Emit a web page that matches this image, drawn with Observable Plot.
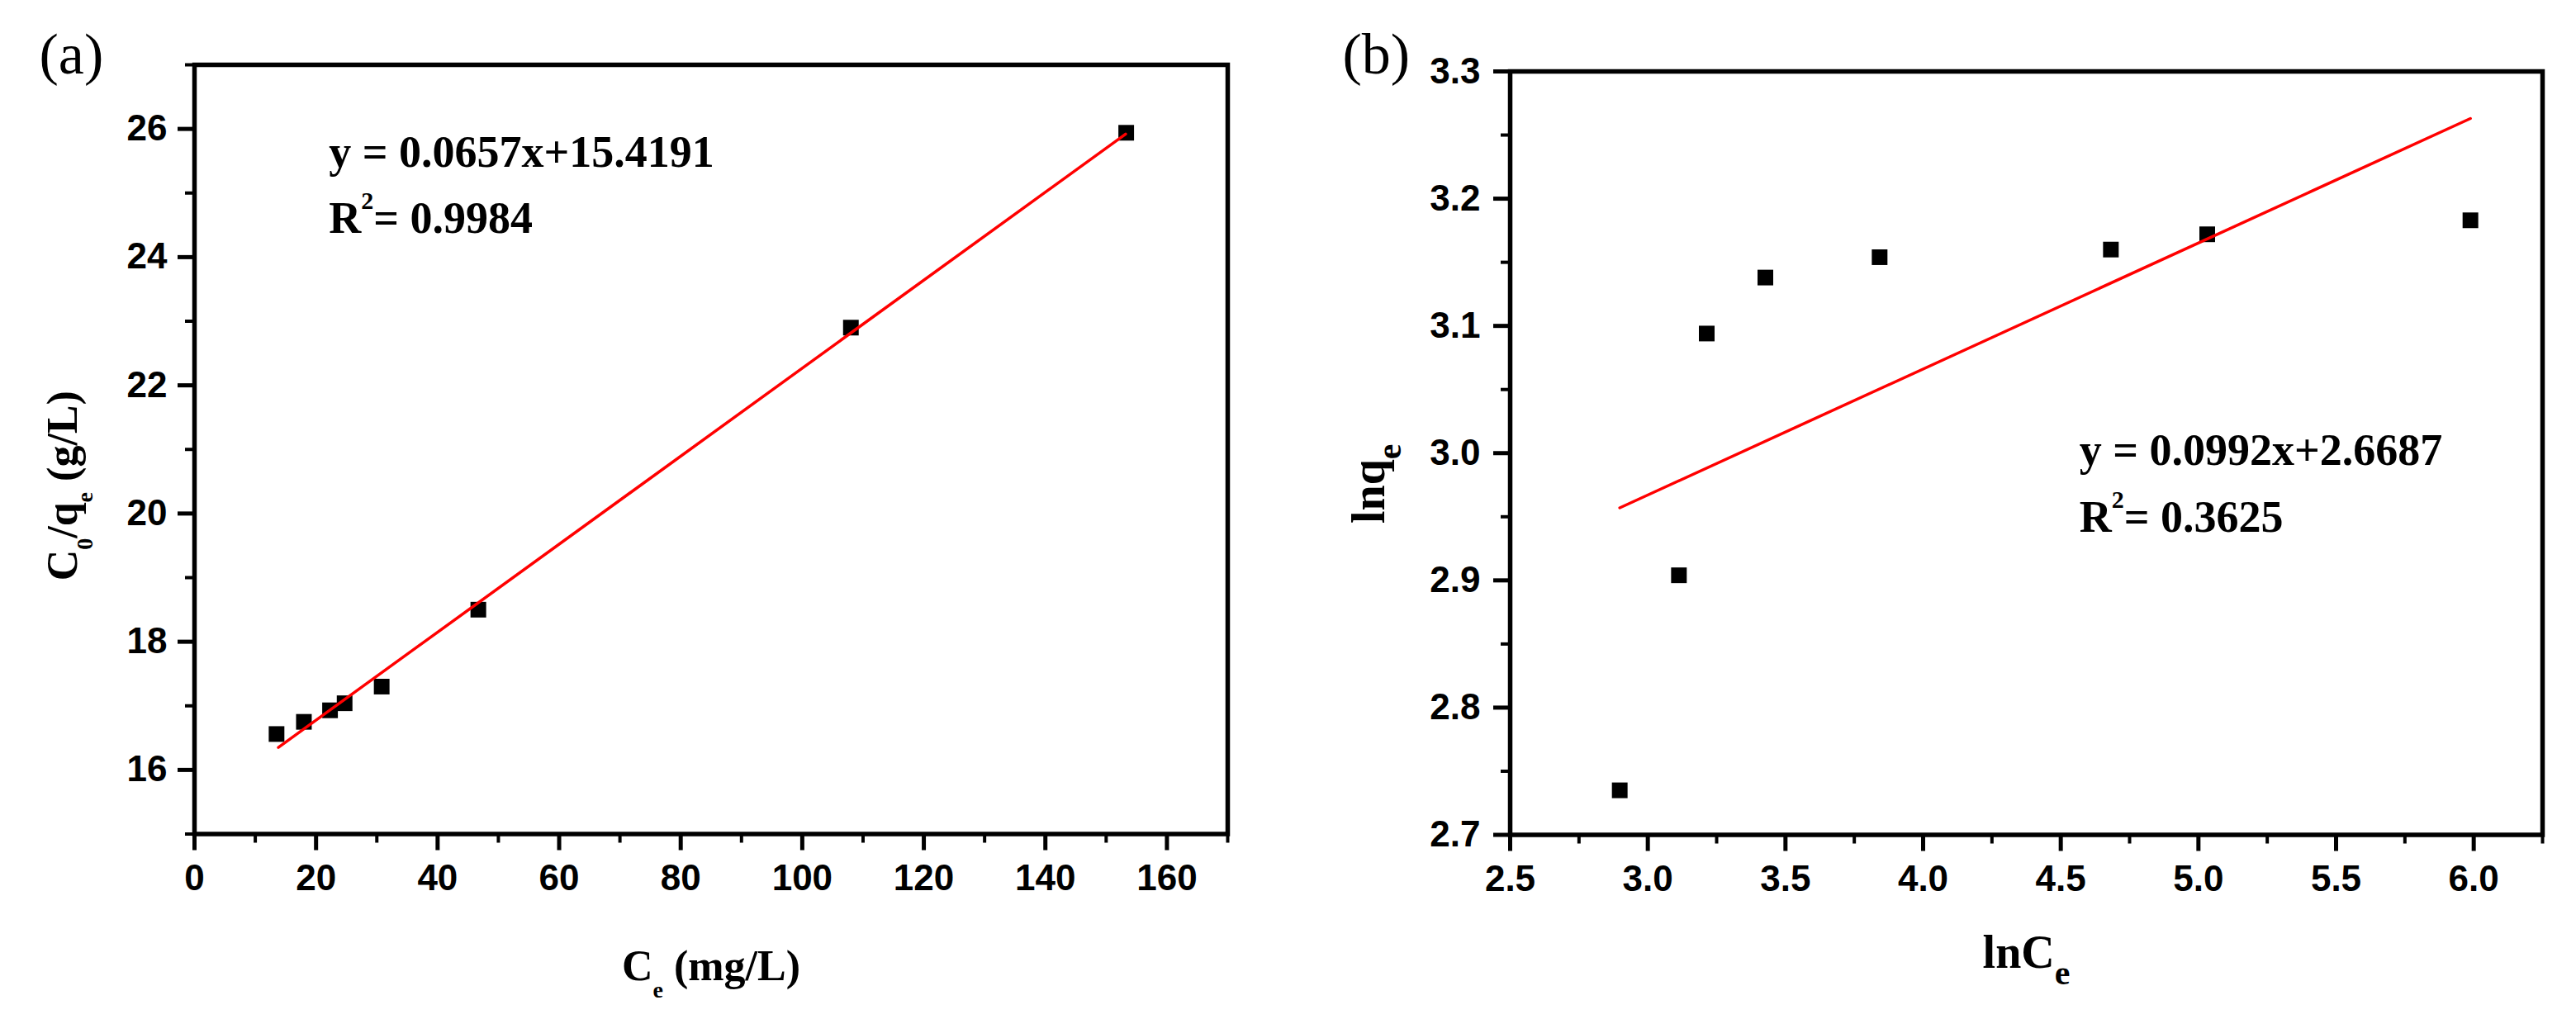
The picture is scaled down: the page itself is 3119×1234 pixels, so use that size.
<!DOCTYPE html>
<html><head><meta charset="utf-8">
<script src="https://cdn.jsdelivr.net/npm/d3@7"></script>
<script src="https://cdn.jsdelivr.net/npm/@observablehq/plot@0.6"></script>
<style>
html,body{margin:0;padding:0;background:#fff;}
#wrap{position:relative;width:3119px;height:1234px;overflow:hidden;background:#fff;}
#pa,#pb{position:absolute;top:0;}
#pa{left:0;} #pb{left:1560px;}
</style></head>
<body><div id="wrap"><div id="pa"></div><div id="pb"></div></div>
<script>
// ---------- Panel (a) data ----------
const ceA    = [13.5, 18.0, 22.3, 24.7, 30.8, 46.7, 108.0, 153.3];
const c0qeA  = [16.56, 16.75, 16.93, 17.04, 17.30, 18.50, 22.90, 25.94];
const fitCeA   = [13.8, 153.2];
const fitC0qeA = [16.35, 25.92];
const xTicksA = [0, 20, 40, 60, 80, 100, 120, 140, 160];
const xMinorA = [10, 30, 50, 70, 90, 110, 130, 150, 170];
const yTicksA = [16, 18, 20, 22, 24, 26];
const yMinorA = [15, 17, 19, 21, 23, 25, 27];
const eqA = "y = 0.0657x+15.4191";
const r2A = "0.9984";

// ---------- Panel (b) data ----------
const lnCeB = [2.898, 3.113, 3.214, 3.427, 3.842, 4.682, 5.032, 5.988];
const lnqeB = [2.735, 2.904, 3.094, 3.138, 3.154, 3.160, 3.172, 3.183];
const fitLnCeB = [2.898, 5.988];
const fitLnqeB = [2.957, 3.263];
const xTicksB = [2.5, 3.0, 3.5, 4.0, 4.5, 5.0, 5.5, 6.0];
const xMinorB = [2.75, 3.25, 3.75, 4.25, 4.75, 5.25, 5.75, 6.25];
const yTicksB = [2.7, 2.8, 2.9, 3.0, 3.1, 3.2, 3.3];
const yMinorB = [2.75, 2.85, 2.95, 3.05, 3.15, 3.25];
const eqB = "y = 0.0992x+2.6687";
const r2B = "0.3625";

const serif = "'Liberation Serif','Times New Roman',serif";
const sans = "'Liberation Sans',Arial,sans-serif";
const NS = "http://www.w3.org/2000/svg";

// Replace the content of the text element whose content equals `key` with styled tspans
function rich(svg, key, parts) {
  const t = Array.from(svg.querySelectorAll("text")).find(e => e.textContent === key);
  if (!t) return;
  t.textContent = "";
  let shift = 0;
  for (const p of parts) {
    const ts = document.createElementNS(NS, "tspan");
    const target = p.sub ? p.sub : (p.sup ? -p.sup : 0);
    if (target - shift !== 0) ts.setAttribute("dy", target - shift);
    shift = target;
    if (p.size) ts.setAttribute("font-size", p.size);
    ts.textContent = p.t;
    t.appendChild(ts);
  }
}

function axes(xMaj, xMin, yMaj, yMin, fmt, padY) {
  const tickText = {fontSize: 44, fontWeight: "bold", fontFamily: sans, fill: "black"};
  return [
    Plot.axisX(xMin, {tickSize: 11, strokeWidth: 4, tickFormat: () => "", label: null}),
    Plot.axisX(xMaj, {tickSize: 20, strokeWidth: 5, tickPadding: 17, tickFormat: fmt, label: null, ...tickText}),
    Plot.axisY(yMin, {tickSize: 11, strokeWidth: 4, tickFormat: () => "", label: null}),
    Plot.axisY(yMaj, {tickSize: 20, strokeWidth: 5, tickPadding: padY, tickFormat: fmt, label: null, ...tickText})
  ];
}

// ---------- Panel (a) ----------
const pointsA = ceA.map((c, i) => ({x: c, y: c0qeA[i]}));
const fitA = fitCeA.map((c, i) => ({x: c, y: fitC0qeA[i]}));
const plotA = Plot.plot({
  width: 1560, height: 1234,
  marginLeft: 235, marginRight: 74, marginTop: 78, marginBottom: 224.5,
  x: {domain: [0, 170], label: null},
  y: {domain: [15, 27], label: null},
  style: {fontFamily: sans, color: "black", background: "white", overflow: "visible"},
  marks: [
    ...axes(xTicksA, xMinorA, yTicksA, yMinorA, d => String(d), 13),
    Plot.frame({stroke: "black", strokeWidth: 5.5}),
    Plot.dot(pointsA, {x: "x", y: "y", symbol: "square", r: 10.7, fill: "black", stroke: null}),
    Plot.line(fitA, {x: "x", y: "y", stroke: "#ff0000", strokeWidth: 3.5}),
    Plot.text([eqA], {x: [22.1], y: [25.41], textAnchor: "start", lineAnchor: "bottom",
      fontSize: 54, fontWeight: "bold", fontFamily: serif, fill: "black"}),
    Plot.text(["R2= " + r2A], {x: [22.1], y: [24.38], textAnchor: "start", lineAnchor: "bottom",
      fontSize: 54, fontWeight: "bold", fontFamily: serif, fill: "black"}),
    Plot.text(["(a)"], {frameAnchor: "top-left", dx: -188, dy: 10, textAnchor: "start", lineAnchor: "bottom",
      fontSize: 70, fontFamily: serif, fill: "black"}),
    Plot.text(["Ce (mg/L)"], {frameAnchor: "bottom", dy: 176.5, textAnchor: "middle", lineAnchor: "bottom",
      fontSize: 52, fontWeight: "bold", fontFamily: serif, fill: "black"}),
    Plot.text(["C0/qe (g/L)"], {frameAnchor: "left", rotate: -90, dx: -143, dy: 44, textAnchor: "middle", lineAnchor: "bottom",
      fontSize: 52, fontWeight: "bold", fontFamily: serif, fill: "black"})
  ]
});
rich(plotA, "R2= " + r2A, [{t: "R"}, {t: "2", sup: 29, size: 30}, {t: "= " + r2A}]);
rich(plotA, "Ce (mg/L)", [{t: "C"}, {t: "e", sub: 21, size: 28}, {t: " (mg/L)"}]);
rich(plotA, "C0/qe (g/L)", [{t: "C"}, {t: "0", sub: 19, size: 28}, {t: "/q"}, {t: "e", sub: 19, size: 28}, {t: " (g/L)"}]);
document.getElementById("pa").appendChild(plotA);

// ---------- Panel (b) ----------
const pointsB = lnCeB.map((c, i) => ({x: c, y: lnqeB[i]}));
const fitB = fitLnCeB.map((c, i) => ({x: c, y: fitLnqeB[i]}));
const plotB = Plot.plot({
  width: 1559, height: 1234,
  marginLeft: 268, marginRight: 41, marginTop: 86, marginBottom: 223.5,
  x: {domain: [2.5, 6.25], label: null},
  y: {domain: [2.7, 3.3], label: null},
  style: {fontFamily: sans, color: "black", background: "white", overflow: "visible"},
  marks: [
    ...axes(xTicksB, xMinorB, yTicksB, yMinorB, d => d.toFixed(1), 16),
    Plot.frame({stroke: "black", strokeWidth: 5.5}),
    Plot.dot(pointsB, {x: "x", y: "y", symbol: "square", r: 10.7, fill: "black", stroke: null}),
    Plot.line(fitB, {x: "x", y: "y", stroke: "#ff0000", strokeWidth: 3.5}),
    Plot.text([eqB], {x: [4.568], y: [2.9905], textAnchor: "start", lineAnchor: "bottom",
      fontSize: 54, fontWeight: "bold", fontFamily: serif, fill: "black"}),
    Plot.text(["R2= " + r2B], {x: [4.568], y: [2.9383], textAnchor: "start", lineAnchor: "bottom",
      fontSize: 54, fontWeight: "bold", fontFamily: serif, fill: "black"}),
    Plot.text(["(b)"], {frameAnchor: "top-left", dx: -203, dy: 2, textAnchor: "start", lineAnchor: "bottom",
      fontSize: 70, fontFamily: serif, fill: "black"}),
    Plot.text(["lnCe"], {frameAnchor: "bottom", dy: 160.5, textAnchor: "middle", lineAnchor: "bottom",
      fontSize: 56, fontWeight: "bold", fontFamily: serif, fill: "black"}),
    Plot.text(["lnqe"], {frameAnchor: "left", rotate: -90, dx: -153, dy: 37, textAnchor: "middle", lineAnchor: "bottom",
      fontSize: 56, fontWeight: "bold", fontFamily: serif, fill: "black"})
  ]
});
rich(plotB, "R2= " + r2B, [{t: "R"}, {t: "2", sup: 29, size: 30}, {t: "= " + r2B}]);
rich(plotB, "lnCe", [{t: "lnC"}, {t: "e", sub: 20, size: 42}]);
rich(plotB, "lnqe", [{t: "lnq"}, {t: "e", sub: 20, size: 42}]);
document.getElementById("pb").appendChild(plotB);
</script>
</body></html>
